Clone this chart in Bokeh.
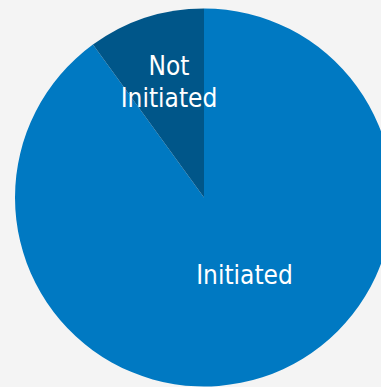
import math
from bokeh.plotting import figure
from bokeh.models import Range1d, ColumnDataSource
from bokeh.core.properties import value
from bokeh.embed import file_html
from bokeh.resources import INLINE

categories = ["Initiated", "Not Initiated"]
shares = [90, 10]
labels = ["Initiated", "Not\nInitiated"]

colors = ["#0079c2", "#005689"]
BG = "#f4f4f4"

W, H = 381, 387
p = figure(width=W, height=H, output_backend="svg", toolbar_location=None,
           x_range=Range1d(0, W), y_range=Range1d(0, H),
           min_border=0, background_fill_color=BG, border_fill_color=BG,
           outline_line_color=None)
p.axis.visible = False
p.grid.visible = False

cx, cy, r = 203.5, 190.0, 189.0
total = sum(shares)
top = math.pi / 2
not_end = top + shares[1] / total * 2 * math.pi
starts = [not_end, top]
ends = [top + 2 * math.pi, not_end]

src = ColumnDataSource(dict(cat=categories, start=starts, end=ends, color=colors))
p.wedge(x=cx, y=cy, radius=r, start_angle="start", end_angle="end",
        color="color", line_color=None, source=src)

# label anchors (first line), line spacing in px
anchors = [(244.0, 112.5), (168.5, 321.5)]
line_gap = 32.0
xs, ys, texts = [], [], []
for (ax, ay), lab in zip(anchors, labels):
    for i, line in enumerate(lab.split("\n")):
        xs.append(ax)
        ys.append(ay - i * line_gap)
        texts.append(line)

p.text(x=xs, y=ys, text=texts, text_color="white",
       text_font=value("DejaVu Sans Condensed, Liberation Sans Narrow, Roboto"),
       text_font_size="26px", text_align="center", text_baseline="alphabetic")

html = file_html(p, INLINE)
html = html.replace("<head>", "<head><style>html,body{background:%s;}</style>" % BG, 1)
open("out.html", "w").write(html)
